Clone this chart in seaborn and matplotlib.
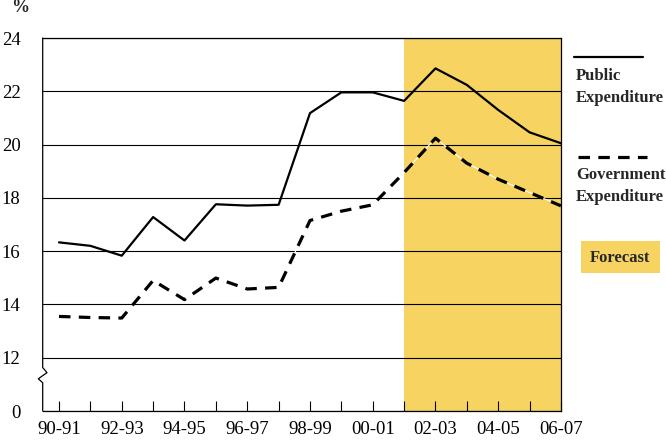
import matplotlib
matplotlib.use("Agg")
import matplotlib.pyplot as plt
from matplotlib.lines import Line2D
from matplotlib.patches import Rectangle
import seaborn as sns
import pandas as pd

# Data
years = ['90-91', '91-92', '92-93', '93-94', '94-95', '95-96', '96-97', '97-98',
         '98-99', '99-00', '00-01', '01-02', '02-03', '03-04', '04-05', '05-06', '06-07']
public_exp = [16.33, 16.2, 15.83, 17.28, 16.4, 17.76, 17.71, 17.74,
              21.18, 21.96, 21.96, 21.64, 22.86, 22.24, 21.3, 20.46, 20.05]
govt_exp = [13.55, 13.51, 13.49, 14.9, 14.18, 14.99, 14.58, 14.64,
            17.15, 17.5, 17.74, 18.95, 20.24, 19.3, 18.7, 18.2, 17.7]
forecast_start = '01-02'
ytick_vals = [10, 12, 14, 16, 18, 20, 22, 24]
ytick_labels = ['0', '12', '14', '16', '18', '20', '22', '24']

df = pd.DataFrame({'pos': range(len(years)), 'year': years,
                   'public': public_exp, 'govt': govt_exp})

sns.set_theme(style='white')
plt.rcParams['font.family'] = ['Liberation Serif', 'DejaVu Serif']

fig = plt.figure(figsize=(6.66, 4.42), dpi=100)
ax = fig.add_axes([0.0641, 0.0701, 0.7782, 0.8439])

# forecast shading
fc_color = '#f7d462'
ax.axvspan(years.index(forecast_start), len(years) - 1, color=fc_color, lw=0, zorder=0.2)

# lines
sns.lineplot(data=df, x='pos', y='public', ax=ax, color='black', lw=1.6, zorder=3)
sns.lineplot(data=df, x='pos', y='govt', ax=ax, color='white', lw=0.8, zorder=3)
sns.lineplot(data=df, x='pos', y='govt', ax=ax, color='black', lw=2.3, zorder=4)
ax.lines[-1].set_dashes((3.6, 2.6))
ax.lines[-1].set_dash_capstyle('butt')

ax.set_xlim(-0.52, len(years) - 1)
ax.set_ylim(10, 24)
ax.set_xticks(df['pos'])
ax.set_xticklabels([y if i % 2 == 0 else '' for i, y in enumerate(years)], fontsize=13.5)
ax.set_yticks(ytick_vals)
ax.set_yticklabels(ytick_labels, fontsize=13.5)
ax.set_xlabel('')
ax.set_ylabel('')

ax.yaxis.grid(True, color='black', lw=0.8)
ax.xaxis.grid(False)
ax.set_axisbelow(True)

ax.tick_params(axis='x', direction='in', length=7, width=0.8, color='black',
               bottom=True, pad=7, labelcolor='black')
ax.tick_params(axis='y', length=0, pad=16, labelcolor='black')

for side in ['top', 'right', 'bottom']:
    ax.spines[side].set_color('black')
    ax.spines[side].set_linewidth(0.9)
ax.spines['left'].set_visible(False)

# left axis with a break between 0 and 12
trans = ax.get_yaxis_transform()
ax.plot([0, 0, 0.0083, -0.0085, 0, 0], [24, 11.63, 11.44, 11.21, 11.06, 10],
        color='black', lw=0.9, transform=trans, clip_on=False, zorder=5)

fig.text(0.0308, 0.982, '%', fontsize=13, fontweight='bold', ha='center', va='center')

# legend drawn by hand at the right
fig.add_artist(Line2D([0.862, 0.965], [0.8717, 0.8717], color='black', lw=1.6))
fig.text(0.8649, 0.828, 'Public', fontsize=12, fontweight='bold', va='center')
fig.text(0.8649, 0.778, 'Expenditure', fontsize=12, fontweight='bold', va='center')

leg_dash = Line2D([0.868, 0.971], [0.6455, 0.6455], color='black', lw=2.3)
leg_dash.set_dashes((3.6, 2.6))
fig.add_artist(leg_dash)
fig.text(0.8649, 0.604, 'Government', fontsize=12, fontweight='bold', va='center')
fig.text(0.8649, 0.554, 'Expenditure', fontsize=12, fontweight='bold', va='center')

fig.add_artist(Rectangle((0.872, 0.3817), 0.119, 0.0738, transform=fig.transFigure,
                         color=fc_color, lw=0))
fig.text(0.931, 0.416, 'Forecast', fontsize=12, fontweight='bold', ha='center', va='center')

fig.savefig('out.png', dpi=100)
